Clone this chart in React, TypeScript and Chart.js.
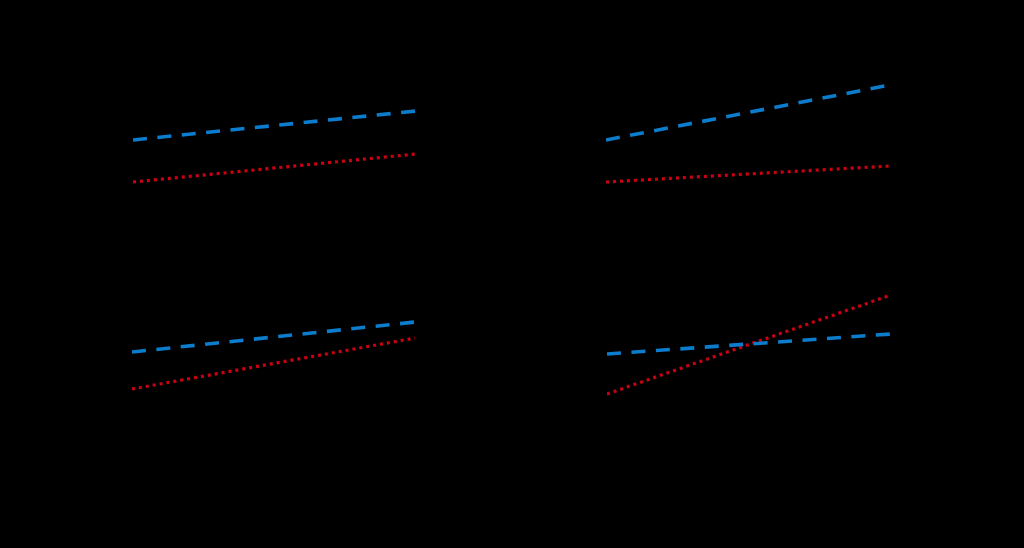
import React, { useEffect, useRef } from "react";
import { Chart, registerables } from "chart.js";

Chart.register(...registerables);

// x positions: two factor levels
const levels = ["Low", "High"];
const levelX = [0, 1];

// Panel titles (drawn in black, as in the reference)
const panelTitles = ["Panel A", "Panel B", "Panel C", "Panel D"];

// Series values per panel (blue dashed = group 1, red dotted = group 2)
const blueTL = [5.0, 6.45];
const redTL = [2.9, 4.3];
const blueTR = [5.0, 7.75];
const redTR = [2.9, 3.7];
const blueBL = [8.1, 9.6];
const redBL = [6.25, 8.8];
const blueBR = [8.0, 9.0];
const redBR = [6.0, 10.95];

const seriesNames = ["Group 1", "Group 2"];

const BLUE = "#0c7ccc";
const RED = "#cc0014";

type PanelProps = { blue: number[]; red: number[]; title: string; yWidth: number; rightPad: number };

function Panel({ blue, red, title, yWidth, rightPad }: PanelProps) {
  const ref = useRef<HTMLCanvasElement | null>(null);
  useEffect(() => {
    if (!ref.current) return;
    const toPts = (vals: number[]) => vals.map((v, i) => ({ x: levelX[i], y: v }));
    const chart = new Chart(ref.current, {
      type: "line",
      data: {
        datasets: [
          {
            label: seriesNames[0],
            data: toPts(blue),
            borderColor: BLUE,
            borderWidth: 3.6,
            borderDash: [14, 10.5],
            pointRadius: 0,
            fill: false,
          },
          {
            label: seriesNames[1],
            data: toPts(red),
            borderColor: RED,
            borderWidth: 3.2,
            borderDash: [3, 4],
            pointRadius: 0,
            fill: false,
          },
        ],
      },
      options: {
        animation: false,
        responsive: false,
        devicePixelRatio: 1,
        layout: { padding: { left: 0, right: rightPad, top: 20, bottom: 0 } },
        plugins: {
          legend: { display: false },
          tooltip: { enabled: false },
          title: { display: false, text: title, color: "#000" },
        },
        scales: {
          x: {
            type: "linear",
            min: 0,
            max: 1,
            grid: { display: false },
            border: { color: "#000" },
            ticks: {
              color: "#000",
              stepSize: 1,
              callback: (v: any) => levels[Number(v)] ?? "",
            },
            afterFit: (s: any) => {
              s.height = 34;
            },
          },
          y: {
            min: 0,
            max: 11,
            grid: { display: false },
            border: { color: "#000" },
            ticks: { color: "#000" },
            afterFit: (s: any) => {
              s.width = yWidth;
            },
          },
        },
      },
    });
    return () => chart.destroy();
  }, [blue, red, title, yWidth, rightPad]);
  return <canvas ref={ref} width={512} height={274} style={{ display: "block", width: 512, height: 274 }} />;
}

export default function App() {
  return (
    <div
      style={{
        position: "fixed",
        left: 0,
        top: 0,
        width: 1024,
        height: 548,
        background: "#000",
        display: "grid",
        gridTemplateColumns: "512px 512px",
        gridTemplateRows: "274px 274px",
      }}
    >
      <Panel blue={blueTL} red={redTL} title={panelTitles[0]} yWidth={133} rightPad={96} />
      <Panel blue={blueTR} red={redTR} title={panelTitles[1]} yWidth={94} rightPad={134} />
      <Panel blue={blueBL} red={redBL} title={panelTitles[2]} yWidth={132} rightPad={97} />
      <Panel blue={blueBR} red={redBR} title={panelTitles[3]} yWidth={95} rightPad={133} />
    </div>
  );
}
